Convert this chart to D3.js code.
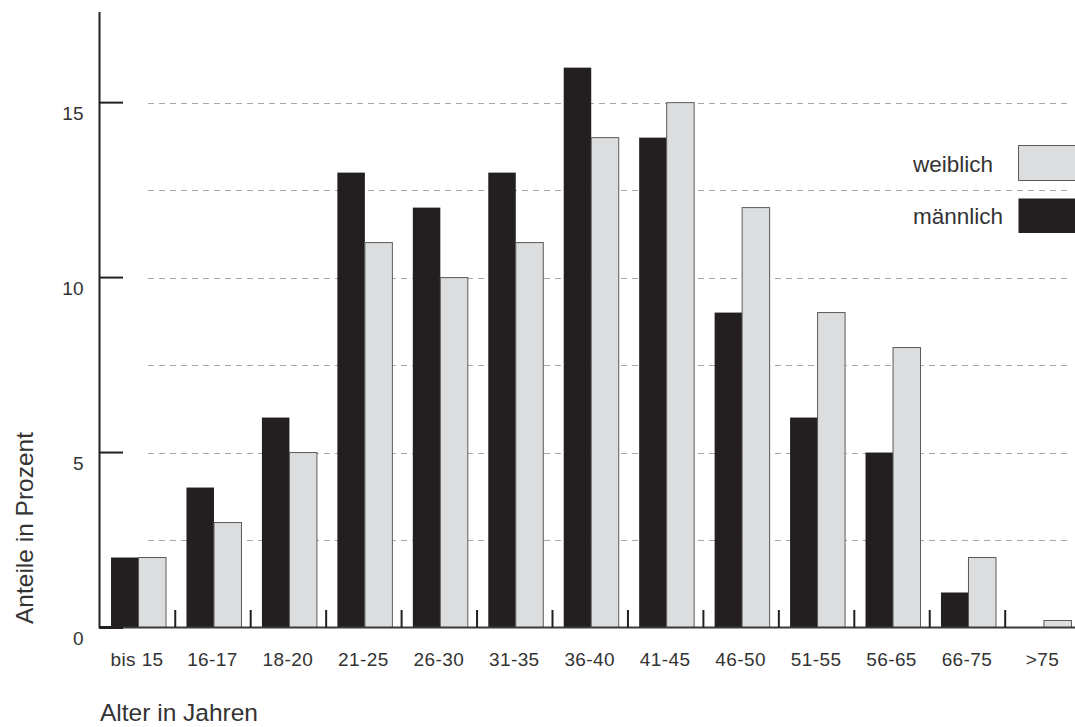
<!DOCTYPE html>
<html>
<head>
<meta charset="utf-8">
<script src="https://cdn.jsdelivr.net/npm/d3@7"></script>
<style>
  html, body { margin: 0; padding: 0; background: #fff; }
  svg { display: block; }
  text { font-family: "Liberation Sans", Arial, Helvetica, sans-serif; fill: #333; }
</style>
</head>
<body>
<svg id="chart" width="1075" height="727"></svg>
<script>
// ---- data ----
const categories = ["bis 15", "16-17", "18-20", "21-25", "26-30", "31-35", "36-40", "41-45", "46-50", "51-55", "56-65", "66-75", ">75"];
const maennlich = [2, 4, 6, 13, 12, 13, 16, 14, 9, 6, 5, 1, 0];
const weiblich  = [2, 3, 5, 11, 10, 11, 14, 15, 12, 9, 8, 2, 0.2];
const yTickValues = [0, 5, 10, 15];
const gridValues = [2.5, 5, 7.5, 10, 12.5, 15];
const seriesNames = ["weiblich", "männlich"];
const xTitle = "Alter in Jahren";
const yTitle = "Anteile in Prozent";

// ---- layout ----
const svg = d3.select("#chart");
const axisX = 99.5;
const baseY = 627.5;
const topY = 12;
const BLACK = "#231f20";
const GREY = "#dcdddf";

const step = 75.45;
const x = d3.scaleBand()
  .domain(categories)
  .range([100.8, 100.8 + step * categories.length])
  .paddingInner(0.271)
  .paddingOuter(0.1355);

const y = d3.scaleLinear().domain([0, 17.59]).range([baseY, topY]);

const half = x.bandwidth() / 2;
const gap = x.step() - x.bandwidth();

// grid lines
svg.append("g").selectAll("line")
  .data(gridValues)
  .join("line")
  .attr("x1", 148).attr("x2", 1071)
  .attr("y1", d => Math.round(y(d)) + 0.5)
  .attr("y2", d => Math.round(y(d)) + 0.5)
  .attr("stroke", "#a8a8a8")
  .attr("stroke-width", 1)
  .attr("stroke-dasharray", "6,5");

// bars
const groups = svg.append("g").selectAll("g")
  .data(categories)
  .join("g");

groups.append("rect")
  .attr("x", (d) => x(d))
  .attr("width", half)
  .attr("y", (d, i) => y(maennlich[i]))
  .attr("height", (d, i) => baseY - y(maennlich[i]))
  .attr("fill", BLACK);

groups.append("rect")
  .attr("x", (d) => x(d) + half)
  .attr("width", half)
  .attr("y", (d, i) => y(weiblich[i]))
  .attr("height", (d, i) => baseY - y(weiblich[i]))
  .attr("fill", GREY)
  .attr("stroke", "#5a5a5a")
  .attr("stroke-width", 1);

// x axis baseline
svg.append("line")
  .attr("x1", axisX).attr("x2", 1075)
  .attr("y1", baseY).attr("y2", baseY)
  .attr("stroke", "#3a3a3a").attr("stroke-width", 2);

// x ticks at group boundaries
svg.append("g").selectAll("line")
  .data(categories.slice(1))
  .join("line")
  .attr("x1", d => x(d) - gap / 2 - 1)
  .attr("x2", d => x(d) - gap / 2 - 1)
  .attr("y1", 610).attr("y2", baseY)
  .attr("stroke", BLACK).attr("stroke-width", 2);

// x labels
svg.append("g").selectAll("text")
  .data(categories)
  .join("text")
  .attr("x", d => x(d) + x.bandwidth() / 2 - 1.5)
  .attr("y", 665.5)
  .attr("text-anchor", "middle")
  .attr("font-size", 19)
  .attr("letter-spacing", 0.4)
  .text(d => d);

// y axis line
svg.append("line")
  .attr("x1", axisX).attr("x2", axisX)
  .attr("y1", topY).attr("y2", baseY + 1)
  .attr("stroke", BLACK).attr("stroke-width", 2);

// y ticks
svg.append("g").selectAll("line")
  .data(yTickValues)
  .join("line")
  .attr("x1", axisX).attr("x2", 123)
  .attr("y1", d => y(d)).attr("y2", d => y(d))
  .attr("stroke", BLACK).attr("stroke-width", d => d === 0 ? 3 : 2);

svg.append("g").selectAll("text")
  .data(yTickValues)
  .join("text")
  .attr("x", 83.5)
  .attr("y", d => y(d) + 17)
  .attr("text-anchor", "end")
  .attr("font-size", 19)
  .text(d => d);

// axis titles
svg.append("text")
  .attr("x", 100)
  .attr("y", 720.5)
  .attr("font-size", 24.5)
  .text(xTitle);

svg.append("text")
  .attr("transform", "translate(33,528) rotate(-90)")
  .attr("text-anchor", "middle")
  .attr("font-size", 24.5)
  .text(yTitle);

// legend
const legendRows = [
  { name: seriesNames[0], fill: GREY, stroke: "#5a5a5a", y0: 145.5, h: 35, ty: 172 },
  { name: seriesNames[1], fill: BLACK, stroke: "none", y0: 198.5, h: 34.5, ty: 223.5 }
];
const lg = svg.append("g");
lg.selectAll("rect")
  .data(legendRows)
  .join("rect")
  .attr("x", 1018.5).attr("width", 60)
  .attr("y", d => d.y0).attr("height", d => d.h)
  .attr("fill", d => d.fill)
  .attr("stroke", d => d.stroke)
  .attr("stroke-width", 1);
lg.selectAll("text")
  .data(legendRows)
  .join("text")
  .attr("x", 913)
  .attr("y", d => d.ty)
  .attr("font-size", 22.5)
  .text(d => d.name);
</script>
</body>
</html>
